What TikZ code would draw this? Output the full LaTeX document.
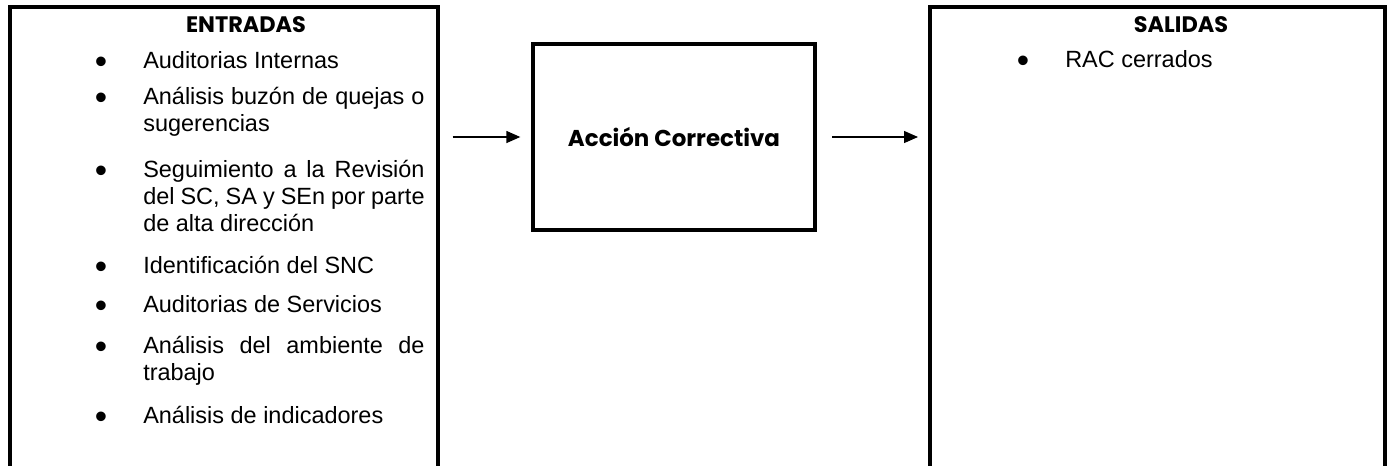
\documentclass[tikz,border=0pt]{standalone}
\usepackage{fontspec}
\setmainfont{Liberation Sans}
\newfontfamily\titulo{Poppins}
\usetikzlibrary{positioning, arrows.meta}
\newcommand\vineta{\spaceskip=0.278em plus 0.2em minus 0.12em\relax
  \llap{\raisebox{-0.25em}{\scalebox{1.5}{\textbullet}}\hspace{27pt}}}
\tikzset{panel/.style={minimum width=320.25pt, minimum height=343.5pt, inner sep=0pt, anchor=north west},
         marco/.style={line width=3pt},
         proceso/.style={draw, line width=3pt, minimum width=211.5pt, minimum height=139.9pt, inner sep=0pt,
                         font=\titulo\bfseries\fontsize{17.2}{20}\selectfont},
         cabecera/.style={anchor=base, inner sep=0pt, font=\titulo\bfseries\fontsize{16.8}{18}\selectfont},
         item/.style={anchor=base west, inner sep=0pt, text width=211pt, align=justify,
                      font=\fontsize{17.6}{20.6}\selectfont},
         flecha/.style={-{Triangle[length=10.5pt,width=9pt]}, line width=1pt},
        }

\begin{document}
\begin{tikzpicture}[x=0.75pt,y=-0.75pt]
    \useasboundingbox (0,0) rectangle (1389,465);

    % paneles abiertos por abajo
    \node[panel](entradas)at(10,7){};
    \node[panel, minimum width=340.5pt](salidas)at(930,7){};
    \draw[marco](entradas.south west)--(entradas.north west)--(entradas.north east)--(entradas.south east);
    \draw[marco](salidas.south west)--(salidas.north west)--(salidas.north east)--(salidas.south east);

    \node[cabecera](tentradas)at(246,32){ENTRADAS};
    \node[cabecera](tsalidas)at(1181,32){SALIDAS};

    \node[item](e1)at(143,68){\vineta Auditorias Internas};
    \node[item](e2)at(143,104){\vineta Análisis buzón de quejas o\linebreak sugerencias};
    \node[item](e3)at(143,177){\vineta Seguimiento a la Revisión\linebreak del SC, SA y SEn por parte\linebreak de alta dirección};
    \node[item](e4)at(143,273){\vineta Identificación del SNC};
    \node[item](e5)at(143,312){\vineta Auditorias de Servicios};
    \node[item](e6)at(143,353){\vineta Análisis del ambiente de\linebreak trabajo};
    \node[item](e7)at(143,423){\vineta Análisis de indicadores};

    \node[item](s1)at(1065,67){\vineta RAC cerrados};

    \node[proceso](accion)at(674,137){Acción Correctiva};

    \draw[flecha]([xshift=11.25pt]entradas.east |- accion.west)--([xshift=-8pt]accion.west);
    \draw[flecha]([xshift=11.25pt]accion.east)--([xshift=-9pt]salidas.west |- accion.east);
\end{tikzpicture}
\end{document}
